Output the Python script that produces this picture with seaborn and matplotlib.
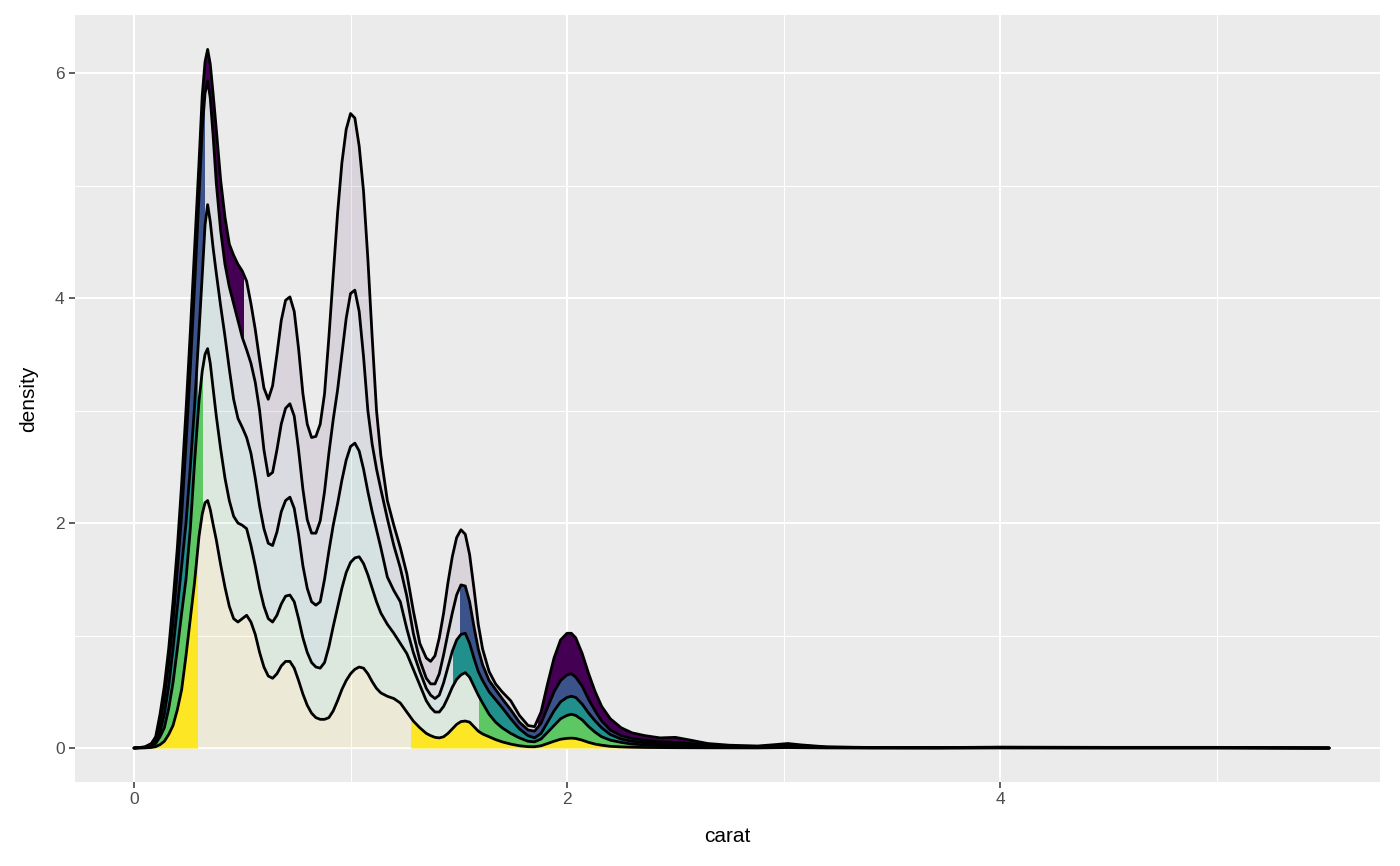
import numpy as np
import pandas as pd
import matplotlib
matplotlib.use("Agg")
import matplotlib.pyplot as plt
from matplotlib.patches import Rectangle
import seaborn as sns

# --- stacked density of carat by cut ---
carat = [
    0.00, 0.05, 0.08, 0.10, 0.12, 0.14, 0.16, 0.18, 0.20, 0.22,
    0.24, 0.26, 0.28, 0.30, 0.315, 0.328, 0.34, 0.352, 0.365, 0.38,
    0.40, 0.42, 0.44, 0.46, 0.48, 0.50, 0.52, 0.54, 0.56, 0.58,
    0.60, 0.62, 0.64, 0.66, 0.68, 0.70, 0.72, 0.74, 0.76, 0.78,
    0.80, 0.82, 0.84, 0.86, 0.88, 0.90, 0.92, 0.94, 0.96, 0.98,
    1.00, 1.02, 1.04, 1.06, 1.08, 1.10, 1.12, 1.14, 1.17, 1.20,
    1.23, 1.26, 1.29, 1.32, 1.35, 1.37, 1.39, 1.41, 1.43, 1.45,
    1.47, 1.49, 1.51, 1.53, 1.55, 1.57, 1.59, 1.61, 1.64, 1.67,
    1.70, 1.74, 1.78, 1.82, 1.85, 1.88, 1.91, 1.94, 1.97, 2.00,
    2.02, 2.04, 2.07, 2.10, 2.13, 2.16, 2.20, 2.25, 2.30, 2.36,
    2.43, 2.50, 2.57, 2.65, 2.75, 2.88, 2.96, 3.02, 3.08, 3.20,
    3.40, 3.70, 4.00, 4.50, 5.00, 5.52,
]

# top edge of each stacked layer (Ideal at the bottom, Fair on top)
ideal_top = [
    0.0, 0.001, 0.005, 0.012, 0.03, 0.06, 0.12, 0.2, 0.34, 0.52,
    0.82, 1.15, 1.48, 1.88, 2.08, 2.18, 2.2, 2.12, 1.99, 1.85,
    1.63, 1.43, 1.26, 1.15, 1.12, 1.15, 1.18, 1.12, 1.01, 0.85,
    0.72, 0.64, 0.62, 0.66, 0.73, 0.77, 0.77, 0.71, 0.6, 0.48,
    0.38, 0.31, 0.27, 0.255, 0.255, 0.27, 0.33, 0.42, 0.52, 0.6,
    0.66, 0.7, 0.72, 0.71, 0.66, 0.59, 0.53, 0.49, 0.46, 0.44,
    0.4, 0.32, 0.24, 0.18, 0.13, 0.11, 0.095, 0.09, 0.1, 0.13,
    0.17, 0.21, 0.235, 0.24, 0.23, 0.19, 0.15, 0.125, 0.1, 0.075,
    0.055, 0.035, 0.02, 0.012, 0.011, 0.02, 0.04, 0.06, 0.078, 0.086,
    0.088, 0.085, 0.07, 0.05, 0.035, 0.025, 0.015, 0.01, 0.007, 0.005,
    0.004, 0.003, 0.0025, 0.002, 0.0015, 0.001, 0.003, 0.004, 0.003, 0.001,
    0.0005, 0.0005, 0.001, 0.0005, 0.0005, 0.0,
]
premium_top = [
    0.0, 0.004, 0.015, 0.04, 0.1, 0.18, 0.35, 0.58, 0.88, 1.2,
    1.5, 1.95, 2.55, 3.08, 3.35, 3.5, 3.55, 3.42, 3.2, 2.95,
    2.66, 2.4, 2.2, 2.06, 2.0, 1.98, 1.95, 1.8, 1.62, 1.42,
    1.26, 1.15, 1.12, 1.18, 1.28, 1.35, 1.36, 1.3, 1.15, 0.98,
    0.85, 0.76, 0.72, 0.71, 0.76, 0.9, 1.08, 1.25, 1.42, 1.56,
    1.65, 1.69, 1.7, 1.64, 1.54, 1.42, 1.3, 1.2, 1.1, 1.02,
    0.93, 0.84, 0.7, 0.56, 0.42, 0.36, 0.32, 0.32, 0.37, 0.45,
    0.54, 0.61, 0.65, 0.67, 0.63, 0.55, 0.47, 0.4, 0.3, 0.23,
    0.18, 0.13, 0.09, 0.06, 0.055, 0.08, 0.14, 0.2, 0.26, 0.29,
    0.3, 0.29, 0.25, 0.19, 0.14, 0.1, 0.07, 0.05, 0.035, 0.028,
    0.022, 0.018, 0.014, 0.01, 0.007, 0.005, 0.009, 0.014, 0.009, 0.004,
    0.002, 0.0015, 0.003, 0.002, 0.002, 0.0,
]
very_good_top = [
    0.0, 0.006, 0.025, 0.06, 0.14, 0.3, 0.55, 0.88, 1.25, 1.62,
    2.0, 2.5, 3.05, 3.7, 4.2, 4.65, 4.83, 4.68, 4.45, 4.22,
    3.93, 3.66, 3.37, 3.1, 2.93, 2.85, 2.76, 2.62, 2.4, 2.15,
    1.95, 1.82, 1.8, 1.92, 2.1, 2.2, 2.23, 2.13, 1.9, 1.62,
    1.42, 1.3, 1.27, 1.3, 1.5, 1.75, 1.98, 2.17, 2.38, 2.56,
    2.68, 2.71, 2.64, 2.48, 2.28, 2.1, 1.94, 1.78, 1.52, 1.4,
    1.3, 1.06, 0.85, 0.68, 0.53, 0.47, 0.44, 0.47, 0.58, 0.72,
    0.86, 0.96, 1.01, 1.02, 0.93, 0.8, 0.68, 0.6, 0.5, 0.43,
    0.36, 0.26, 0.17, 0.11, 0.09, 0.13, 0.23, 0.33, 0.41, 0.45,
    0.46, 0.45, 0.39, 0.31, 0.24, 0.18, 0.12, 0.08, 0.06, 0.048,
    0.038, 0.03, 0.024, 0.016, 0.01, 0.008, 0.014, 0.02, 0.014, 0.006,
    0.003, 0.002, 0.004, 0.003, 0.003, 0.0,
]
good_top = [
    0.0, 0.008, 0.035, 0.09, 0.22, 0.45, 0.75, 1.12, 1.58, 2.07,
    2.7, 3.38, 4.12, 4.9, 5.5, 5.82, 5.93, 5.78, 5.45, 5.02,
    4.6, 4.3, 4.1, 3.95, 3.8, 3.65, 3.54, 3.42, 3.25, 3.0,
    2.65, 2.42, 2.45, 2.65, 2.88, 3.02, 3.06, 2.95, 2.65, 2.3,
    2.03, 1.91, 1.91, 2.02, 2.28, 2.62, 2.92, 3.18, 3.5, 3.82,
    4.04, 4.07, 3.88, 3.48, 3.0, 2.7, 2.48, 2.3, 2.04, 1.8,
    1.6, 1.35, 1.02, 0.78, 0.62, 0.57, 0.57, 0.66, 0.83, 1.02,
    1.2, 1.36, 1.45, 1.44, 1.3, 1.08, 0.88, 0.74, 0.6, 0.52,
    0.44, 0.34, 0.23, 0.16, 0.15, 0.22, 0.36, 0.5, 0.6, 0.65,
    0.66, 0.63, 0.55, 0.43, 0.33, 0.24, 0.16, 0.11, 0.085, 0.07,
    0.055, 0.05, 0.04, 0.025, 0.015, 0.012, 0.02, 0.028, 0.02, 0.008,
    0.004, 0.003, 0.006, 0.004, 0.004, 0.0,
]
fair_top = [
    0.0, 0.01, 0.04, 0.1, 0.3, 0.55, 0.88, 1.3, 1.78, 2.35,
    3.0, 3.7, 4.45, 5.2, 5.8, 6.1, 6.21, 6.08, 5.82, 5.5,
    5.05, 4.72, 4.48, 4.38, 4.3, 4.24, 4.15, 3.95, 3.72, 3.45,
    3.2, 3.1, 3.22, 3.5, 3.8, 3.98, 4.01, 3.88, 3.55, 3.15,
    2.88, 2.76, 2.77, 2.88, 3.15, 3.65, 4.2, 4.75, 5.2, 5.5,
    5.64, 5.6, 5.35, 4.95, 4.35, 3.65, 3.0, 2.6, 2.2, 1.98,
    1.78, 1.55, 1.22, 0.93, 0.8, 0.77, 0.82, 0.98, 1.2, 1.47,
    1.7, 1.87, 1.94, 1.9, 1.72, 1.42, 1.1, 0.88, 0.68, 0.57,
    0.5, 0.42, 0.29, 0.2, 0.19, 0.32, 0.57, 0.8, 0.96, 1.02,
    1.02, 0.98, 0.84, 0.66, 0.5, 0.37, 0.26, 0.18, 0.135, 0.11,
    0.09, 0.095, 0.07, 0.04, 0.025, 0.018, 0.03, 0.04, 0.028, 0.01,
    0.005, 0.004, 0.008, 0.006, 0.006, 0.0,
]

cuts = ["Ideal", "Premium", "Very Good", "Good", "Fair"]
tops = [ideal_top, premium_top, very_good_top, good_top, fair_top]

# styling: viridis colours, and the carat span where each layer is drawn faint
cut_colors = ["#FDE725", "#5DC863", "#21908C", "#3B528B", "#440154"]
faint_from = [0.29, 0.313, 0.29, 0.323, 0.502]
faint_to = [1.278, 1.594, 1.475, 1.506, 1.867]

sns.set_theme(style="darkgrid", rc={
    "axes.facecolor": "#EBEBEB",
    "grid.color": "white",
    "axes.edgecolor": "#EBEBEB",
})
plt.rcParams["font.family"] = ["Liberation Sans", "DejaVu Sans"]

fig = plt.figure(figsize=(14, 8.66), dpi=100)
ax = fig.add_axes([0.0536, 0.097, 0.9321, 0.8857])

x = np.array(carat)
lower = np.zeros_like(x)
for name, top, col, a, b in zip(cuts, tops, cut_colors, faint_from, faint_to):
    upper = np.array(top)
    # solid outside [a, b], faint inside
    pieces = [((-1, a), 1.0), ((a, b), 0.1), ((b, 7), 1.0)]
    for (x0, x1), alpha in pieces:
        poly = ax.fill_between(x, lower, upper, color=col, alpha=alpha,
                               linewidth=0, zorder=2)
        clip = Rectangle((x0, -1), x1 - x0, 10, transform=ax.transData)
        poly.set_clip_path(clip)
    lower = upper

long_df = pd.DataFrame({
    "carat": np.tile(x, len(cuts)),
    "density": np.concatenate([np.array(t) for t in tops]),
    "cut": np.repeat(cuts, len(x)),
})
sns.lineplot(data=long_df, x="carat", y="density", units="cut",
             estimator=None, sort=False, color="black", linewidth=2.0,
             solid_joinstyle="round", solid_capstyle="round",
             legend=False, ax=ax, zorder=3)

ax.set_xlim(-0.2725, 5.755)
ax.set_ylim(-0.302, 6.516)
ax.set_xticks([0, 2, 4])
ax.set_yticks([0, 2, 4, 6])
ax.set_xticks([1, 3, 5], minor=True)
ax.set_yticks([1, 3, 5], minor=True)
ax.grid(which="major", color="white", linewidth=1.5)
ax.grid(which="minor", color="white", linewidth=0.75)
ax.set_axisbelow(True)
for s in ax.spines.values():
    s.set_visible(False)
ax.tick_params(which="major", direction="out", length=4.5, width=1.1,
               color="#333333", labelcolor="#4D4D4D", labelsize=12.5, pad=3,
               bottom=True, left=True)
ax.tick_params(which="minor", length=0)
ax.set_xlabel("carat", fontsize=15, color="black", labelpad=14)
ax.set_ylabel("density", fontsize=15, color="black", labelpad=12)

fig.savefig("out.png", dpi=100)
